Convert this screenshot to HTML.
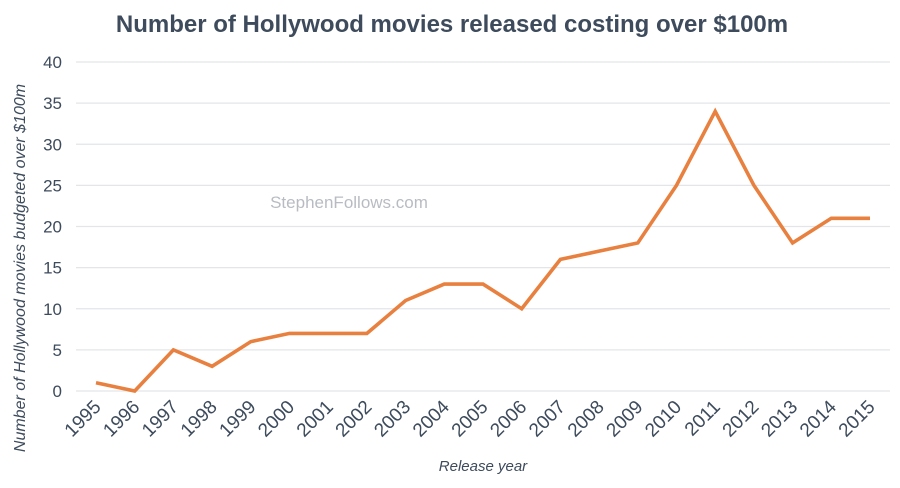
<!DOCTYPE html>
<html><head><meta charset="utf-8">
<style>
html,body{margin:0;padding:0;background:#fff;width:900px;height:488px;overflow:hidden}
svg text{font-family:"Liberation Sans",sans-serif}
</style></head>
<body>
<svg id="chart" width="900" height="488">
<text x="452" y="32" text-anchor="middle" font-size="24" font-weight="bold" fill="#3d4b5c">Number of Hollywood movies released costing over $100m</text>
<text x="349" y="208" text-anchor="middle" font-size="17" fill="#b8bcc2">StephenFollows.com</text>
<text transform="translate(25,268) rotate(-90)" text-anchor="middle" font-size="16" font-style="italic" fill="#3d4b5c">Number of Hollywood  movies budgeted over $100m</text>
<text x="483" y="471" text-anchor="middle" font-size="15" font-style="italic" fill="#3d4b5c">Release year</text>
<g id="grid"></g><g id="ylab"></g><g id="xlab"></g><g id="series"></g>
</svg>
<script>
const years=[1995,1996,1997,1998,1999,2000,2001,2002,2003,2004,2005,2006,2007,2008,2009,2010,2011,2012,2013,2014,2015];
const counts=[1,0,5,3,6,7,7,7,11,13,13,10,16,17,18,25,34,25,18,21,21];
const yTicks=[0,5,10,15,20,25,30,35,40];
const NS="http://www.w3.org/2000/svg";
const x0=96,x1=870,yb=391,yt=62;
function xs(i){return x0+(x1-x0)*i/(years.length-1);}
function ys(v){return yb-(yb-yt)*v/40;}
const grid=document.getElementById('grid'),ylab=document.getElementById('ylab'),xlab=document.getElementById('xlab'),series=document.getElementById('series');
yTicks.forEach(t=>{
 const l=document.createElementNS(NS,'line');
 l.setAttribute('x1',76);l.setAttribute('x2',890);l.setAttribute('y1',ys(t));l.setAttribute('y2',ys(t));
 l.setAttribute('stroke','#e3e5e8');l.setAttribute('stroke-width','1.3');
 
 
 grid.appendChild(l);
 const tx=document.createElementNS(NS,'text');
 tx.setAttribute('x',62);tx.setAttribute('y',ys(t)+6);tx.setAttribute('text-anchor','end');
 tx.setAttribute('font-size','17');tx.setAttribute('fill','#3d4b5c');tx.textContent=t;
 
 
 ylab.appendChild(tx);
});
years.forEach((y,i)=>{
 const tx=document.createElementNS(NS,'text');
 const px=xs(i)+6,py=408;
 tx.setAttribute('transform','translate('+px+','+py+') rotate(-45)');
 tx.setAttribute('text-anchor','end');tx.setAttribute('font-size','19');tx.setAttribute('fill','#3d4b5c');
 tx.textContent=y;
 
 
 xlab.appendChild(tx);
});
const p=document.createElementNS(NS,'polyline');
p.setAttribute('points',counts.map((v,i)=>xs(i)+','+ys(v)).join(' '));
p.setAttribute('fill','none');p.setAttribute('stroke','#e8803f');p.setAttribute('stroke-width','3.6');


series.appendChild(p);
</script>
</body></html>
